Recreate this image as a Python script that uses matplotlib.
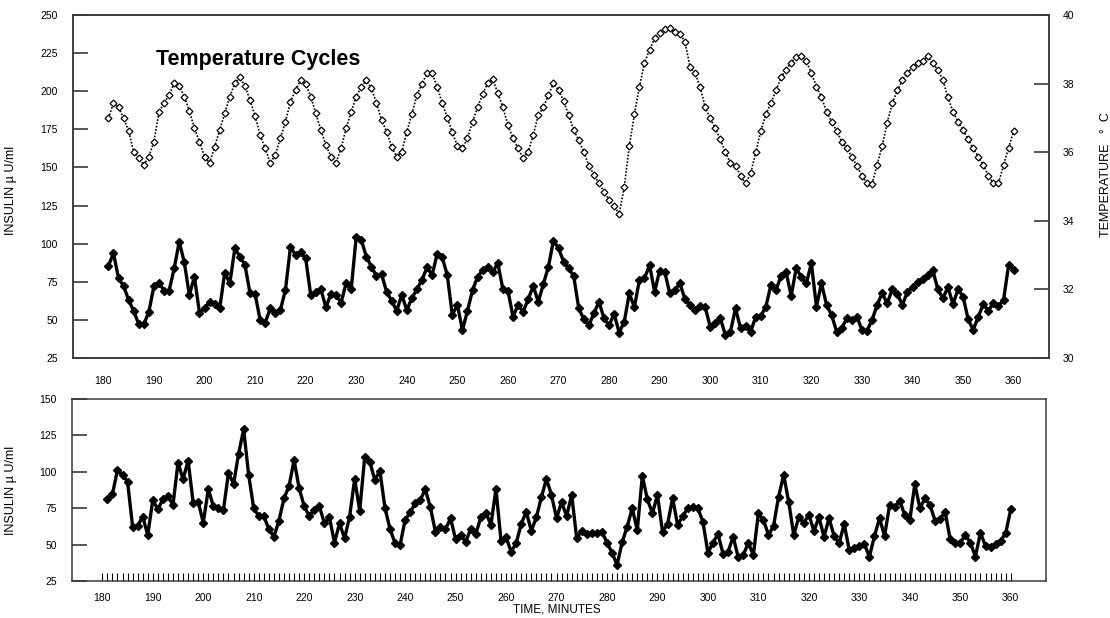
import matplotlib
matplotlib.use('Agg')
import matplotlib.pyplot as plt
import numpy as np
from matplotlib.ticker import FixedLocator

plt.rcParams['font.family'] = ['Liberation Sans', 'DejaVu Sans']

# body temperature, one reading per minute from minute 181
temperature = [
    36.99, 37.44, 37.31, 36.99, 36.62, 36.01, 35.84, 35.63, 35.87, 36.31,
    37.18, 37.43, 37.67, 38.01, 37.93, 37.62, 37.21, 36.70, 36.31, 35.87,
    35.69, 36.16, 36.65, 37.13, 37.62, 38.01, 38.18, 37.93, 37.52, 37.05,
    36.50, 36.11, 35.69, 35.92, 36.41, 36.89, 37.47, 37.81, 38.10, 37.99,
    37.62, 37.13, 36.65, 36.21, 35.87, 35.69, 36.11, 36.70, 37.18, 37.62,
    37.91, 38.10, 37.86, 37.43, 36.94, 36.60, 36.16, 35.87, 36.01, 36.60,
    37.11, 37.67, 37.99, 38.30, 38.30, 37.91, 37.43, 37.01, 36.58, 36.18,
    36.11, 36.41, 36.89, 37.31, 37.70, 38.01, 38.13, 37.72, 37.31, 36.79,
    36.41, 36.11, 35.82, 36.01, 36.50, 37.08, 37.31, 37.67, 38.01, 37.81,
    37.50, 37.08, 36.65, 36.35, 36.01, 35.61, 35.34, 35.09, 34.85, 34.61,
    34.43, 34.20, 34.99, 36.18, 37.10, 37.91, 38.61, 38.98, 39.32, 39.49,
    39.58, 39.61, 39.51, 39.46, 39.22, 38.49, 38.30, 37.91, 37.31, 36.99,
    36.70, 36.38, 36.00, 35.69, 35.61, 35.32, 35.09, 35.38, 36.00, 36.62,
    37.10, 37.43, 37.80, 38.18, 38.41, 38.61, 38.79, 38.80, 38.67, 38.30,
    37.91, 37.60, 37.18, 36.89, 36.62, 36.31, 36.11, 35.87, 35.60, 35.31,
    35.10, 35.08, 35.63, 36.18, 36.86, 37.43, 37.80, 38.10, 38.30, 38.49,
    38.61, 38.67, 38.80, 38.59, 38.40, 38.10, 37.60, 37.18, 36.89, 36.65,
    36.38, 36.11, 35.87, 35.63, 35.32, 35.09, 35.09, 35.63, 36.13, 36.62,
]

# insulin under temperature cycles
insulin_cycles = [
    85.5, 93.7, 77.3, 72.2, 63.0, 55.8, 47.1, 47.1, 55.4, 72.2,
    74.4, 69.2, 69.2, 83.8, 101.3, 87.8, 66.3, 78.3, 54.7, 57.6,
    61.9, 60.4, 57.6, 81.0, 74.0, 97.0, 91.5, 86.0, 67.4, 67.0,
    49.9, 48.2, 57.6, 54.7, 56.5, 69.6, 98.0, 92.6, 94.3, 90.4,
    66.3, 68.5, 70.1, 58.3, 67.0, 66.3, 61.3, 74.0, 70.1, 104.6,
    102.4, 91.5, 84.9, 78.8, 80.1, 68.5, 62.6, 56.0, 66.3, 56.5,
    64.2, 70.1, 76.2, 84.5, 79.4, 93.2, 91.0, 79.4, 53.2, 59.8,
    43.4, 56.0, 69.6, 78.3, 82.7, 84.5, 81.6, 87.1, 70.1, 69.2,
    52.1, 59.8, 55.4, 63.5, 72.2, 61.9, 73.3, 84.9, 102.0, 97.0,
    88.2, 83.8, 78.8, 57.6, 50.4, 46.6, 54.3, 61.9, 51.0, 46.6,
    53.9, 41.6, 48.8, 67.4, 58.3, 76.2, 77.3, 86.0, 68.5, 82.3,
    81.6, 67.4, 69.6, 74.0, 63.5, 59.8, 56.5, 59.1, 58.3, 45.5,
    47.8, 51.0, 40.1, 42.3, 57.6, 44.5, 46.0, 42.3, 52.1, 52.6,
    58.7, 72.9, 69.6, 78.8, 81.6, 65.7, 83.8, 78.3, 74.0, 87.1,
    58.7, 74.0, 59.8, 53.2, 42.3, 44.5, 51.0, 49.9, 52.1, 43.4,
    42.9, 49.9, 59.8, 67.4, 60.9, 70.1, 67.0, 59.8, 68.5, 71.4,
    75.1, 76.6, 79.4, 82.7, 70.1, 64.2, 71.4, 60.4, 70.1, 65.2,
    50.4, 43.4, 52.1, 60.4, 56.0, 61.3, 59.1, 63.0, 86.0, 82.7,
]

# insulin, second run
insulin_second = [
    81.3, 84.5, 101.2, 97.8, 93.2, 62.3, 62.8, 69.2, 56.6, 80.6,
    74.2, 81.1, 83.4, 77.2, 106.3, 94.8, 107.7, 78.8, 79.5, 65.0,
    88.0, 76.5, 74.9, 73.8, 99.4, 91.6, 112.2, 129.2, 97.8, 74.9,
    69.6, 69.6, 60.5, 55.4, 66.4, 81.8, 90.2, 108.1, 88.6, 76.5,
    69.6, 73.8, 76.5, 64.6, 68.7, 51.3, 64.6, 54.3, 69.2, 95.1,
    73.3, 110.4, 106.9, 94.4, 100.8, 75.3, 60.7, 51.0, 49.7, 66.9,
    72.2, 78.4, 80.6, 88.0, 75.6, 58.9, 62.3, 60.5, 68.1, 53.6,
    56.6, 52.0, 60.7, 57.3, 68.7, 71.9, 63.5, 88.2, 52.7, 55.0,
    45.1, 51.0, 64.1, 72.6, 59.5, 68.7, 82.5, 95.1, 84.1, 68.1,
    79.1, 69.6, 84.1, 54.3, 59.5, 57.3, 57.8, 58.2, 58.9, 51.3,
    44.4, 36.0, 51.6, 62.3, 74.9, 60.0, 97.1, 81.1, 71.5, 84.1,
    58.9, 64.1, 81.8, 63.5, 69.6, 74.9, 75.6, 74.9, 65.7, 44.4,
    51.3, 57.3, 43.5, 45.1, 55.4, 41.3, 42.9, 51.0, 42.9, 71.5,
    66.9, 56.6, 62.8, 82.9, 97.8, 79.5, 56.6, 68.7, 65.0, 70.3,
    59.5, 68.7, 55.4, 68.1, 55.9, 51.0, 64.1, 46.3, 47.5, 49.0,
    50.4, 41.7, 55.9, 68.1, 55.9, 77.2, 75.6, 80.2, 70.3, 66.9,
    91.6, 74.9, 81.8, 77.2, 66.4, 67.4, 72.6, 53.6, 51.3, 51.3,
    56.6, 51.3, 41.7, 58.2, 49.0, 48.6, 50.4, 52.7, 57.8, 74.2,
]

minutes = np.arange(181, 181 + len(temperature))
time_ticks = np.arange(180, 361, 10)
spine_col = '#3a3a3a'

fig = plt.figure(figsize=(11.1, 6.18), dpi=100)

# top panel: insulin + temperature
ax1 = fig.add_axes([0.0658, 0.4207, 0.8793, 0.555])
ax2 = ax1.twinx()

ax1.plot(minutes, insulin_cycles, color='black', lw=2.4,
         marker='D', ms=3.6, mfc='black', mec='black')
ax2.plot(minutes, temperature, color='black', lw=1.2, ls=(0, (1, 1)),
         marker='D', ms=3.5, mfc='white', mec='black', mew=0.9)

ax1.set_xlim(174, 367)
ax1.set_ylim(25, 250)
ax1.set_yticks(np.arange(25, 251, 25))
ax2.set_ylim(30, 40)
ax2.set_yticks(np.arange(30, 41, 2))
ax1.set_xticks(time_ticks)
ax1.tick_params(axis='x', length=0, pad=13, labelsize=7.5)
ax1.tick_params(axis='y', direction='in', length=11, width=1.2,
                pad=11, labelsize=7.5, colors=spine_col, labelcolor='black')
ax2.tick_params(axis='y', direction='in', length=11, width=1.2,
                pad=10, labelsize=7.5, colors=spine_col, labelcolor='black')

for ax in (ax1, ax2):
    for s in ax.spines.values():
        s.set_color(spine_col)
        s.set_linewidth(1.1)

ax1.set_ylabel('INSULIN µ U/ml', fontsize=9)
ax1.yaxis.set_label_coords(-0.057, 0.49)
ax2.set_ylabel('TEMPERATURE   °  C', fontsize=9)
ax2.yaxis.set_label_coords(1.052, 0.534)

ax1.text(0.085, 0.854, 'Temperature Cycles', transform=ax1.transAxes,
         fontsize=15.5, fontweight='bold', va='baseline', ha='left')

# bottom panel: insulin only
ax3 = fig.add_axes([0.0649, 0.0599, 0.8775, 0.2945])
ax3.plot(minutes, insulin_second, color='black', lw=2.4,
         marker='D', ms=3.6, mfc='black', mec='black')
ax3.set_xlim(174, 367)
ax3.set_ylim(25, 150)
ax3.set_yticks(np.arange(25, 151, 25))
ax3.set_xticks(time_ticks)
ax3.xaxis.set_minor_locator(FixedLocator(np.arange(181, 361)))
ax3.tick_params(axis='x', which='both', direction='in', length=5.5, width=0.8,
                pad=9, labelsize=7.5, colors='black')
ax3.tick_params(axis='y', direction='in', length=11, width=1.2,
                pad=11, labelsize=7.5, colors=spine_col, labelcolor='black')
for s in ax3.spines.values():
    s.set_color(spine_col)
    s.set_linewidth(1.1)

ax3.set_ylabel('INSULIN µ U/ml', fontsize=9)
ax3.yaxis.set_label_coords(-0.0565, 0.495)
ax3.set_xlabel('TIME, MINUTES', fontsize=8.5)
ax3.xaxis.set_label_coords(0.498, -0.125)

fig.savefig('out.png', dpi=100)
